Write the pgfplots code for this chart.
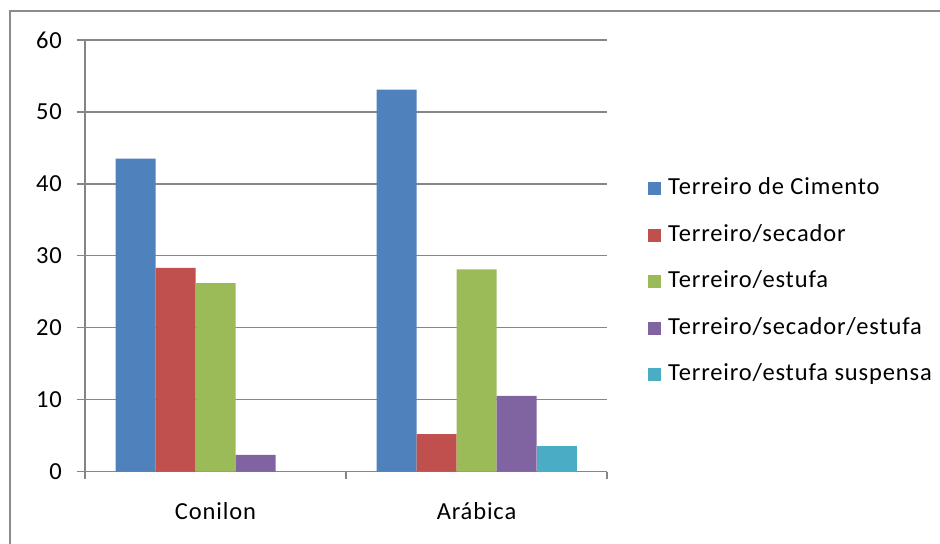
\documentclass[border=0pt]{standalone}
\usepackage{pgfplots}
\pgfplotsset{compat=1.18}
\usepackage{fontspec}
\setmainfont{Carlito}[LetterSpace=3.5]
\definecolor{axgray}{HTML}{868686}
\definecolor{framegray}{HTML}{8C8C8C}
\definecolor{s1}{HTML}{4F81BD}
\definecolor{s2}{HTML}{C0504D}
\definecolor{s3}{HTML}{9BBB59}
\definecolor{s4}{HTML}{8064A2}
\definecolor{s5}{HTML}{4BACC6}
\newcommand{\chartfont}{\fontsize{24.5bp}{28bp}\selectfont}
\begin{document}
\begin{tikzpicture}
\useasboundingbox (0,0) rectangle (940bp,544bp);
% chart area frame (left and top edges)
\draw[framegray, line width=2.6bp] (10bp,0) -- (10bp,533bp) -- (940bp,533bp);
\begin{axis}[
  at={(85bp,72.5bp)}, anchor=south west,
  scale only axis, width=522bp, height=431.5bp,
  ymin=0, ymax=60, ytick={0,10,...,60},
  xmin=-0.5, xmax=1.5,
  xtick={0,1}, xticklabels={Conilon, Arábica},
  minor xtick={-0.5,0.5,1.5},
  axis lines*=left,
  axis line style={axgray, line width=1.4bp},
  tick align=outside,
  major tick length=8bp, minor tick length=7bp,
  tick style={axgray, line width=1.4bp},
  major x tick style={draw=none},
  ymajorgrids, grid style={axgray, line width=1.4bp},
  /pgf/number format/assume math mode=true,
  tick label style={font=\chartfont, text=black},
  yticklabel style={anchor=east, inner sep=0pt, xshift=-15bp},
  xticklabel style={anchor=base, inner sep=0pt, yshift=-40bp},
  ybar=0pt, bar width=40bp,
  legend cell align=left,
  legend image code/.code={\fill[#1] (0bp,-6.5bp) rectangle (13bp,6.5bp);},
  legend style={at={(1.0785,0.44)}, anchor=west, draw=none, fill=none,
    inner sep=0pt, font=\chartfont, row sep=24.5bp,
    nodes={inner sep=0pt, text height=17bp, text depth=5bp},
    /tikz/every odd column/.append style={column sep=7bp}},
]
\addplot[fill=s1, draw=none] coordinates {(0,43.5) (1,53.1)};
\addplot[fill=s2, draw=none] coordinates {(0,28.3) (1,5.2)};
\addplot[fill=s3, draw=none] coordinates {(0,26.2) (1,28.1)};
\addplot[fill=s4, draw=none] coordinates {(0,2.3) (1,10.5)};
\addplot[fill=s5, draw=none] coordinates {(1,3.5)};
\legend{Terreiro de Cimento, Terreiro/secador, Terreiro/estufa, Terreiro/secador/estufa, Terreiro/estufa suspensa}
\end{axis}
\end{tikzpicture}
\end{document}
